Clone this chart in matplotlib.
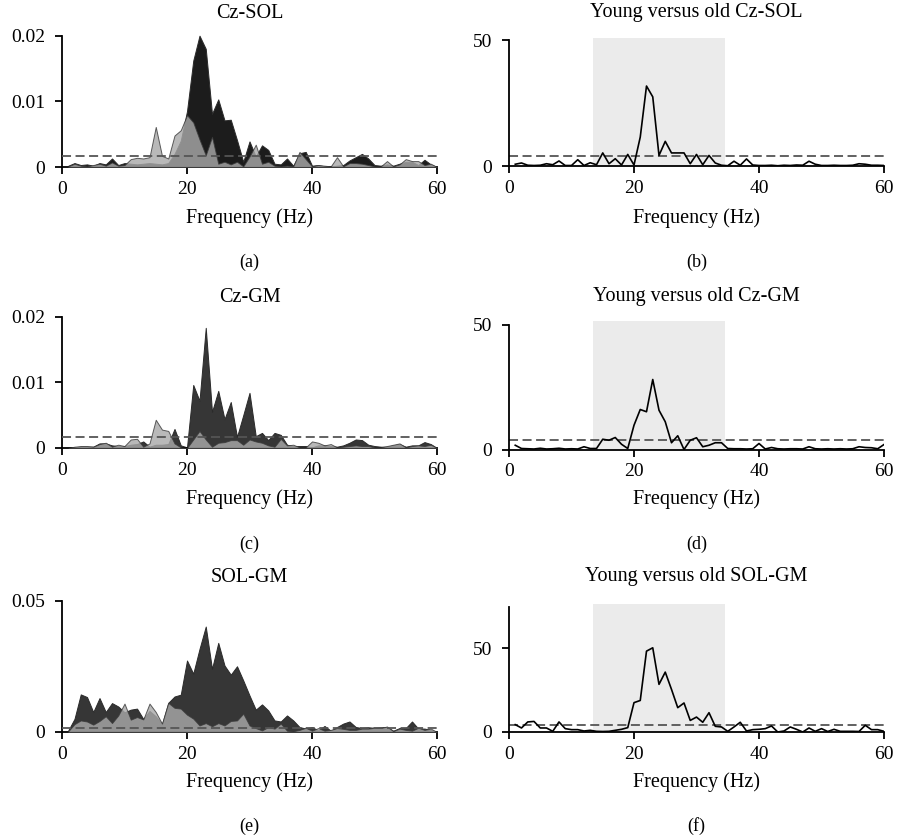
import numpy as np
import matplotlib
matplotlib.use('Agg')
import matplotlib.pyplot as plt

plt.rcParams['font.family'] = ['Liberation Serif', 'DejaVu Serif']

# ==============================================================================
# DATOS
# ==============================================================================
freq = list(range(1, 61))

# Coherencia Cz-SOL (serie oscura y serie gris)
coh_a_oscura = [0.0002, 0.0006, 0.0003, 0.0004, 0.0002, 0.0006, 0.0004, 0.0013, 0.0003, 0.0006,
                0.0005, 0.0004, 0.0005, 0.0006, 0.0005, 0.0004, 0.0006, 0.0020, 0.0040, 0.0085,
                0.0162, 0.0200, 0.0180, 0.0081, 0.0103, 0.0071, 0.0072, 0.0041, 0.0008, 0.0039,
                0.0016, 0.0033, 0.0026, 0.0005, 0.0004, 0.0013, 0.0002, 0.0021, 0.0023, 0.0002,
                0.0003, 0.0001, 0.0001, 0.0002, 0.0003, 0.0010, 0.0015, 0.0020, 0.0013, 0.0003,
                0.0002, 0.0004, 0.0002, 0.0005, 0.0008, 0.0008, 0.0003, 0.0011, 0.0004, 0.0000]
coh_a_gris = [0.0001, 0.0005, 0.0002, 0.0001, 0.0003, 0.0005, 0.0002, 0.0007, 0.0002, 0.0003,
              0.0012, 0.0014, 0.0013, 0.0015, 0.0061, 0.0017, 0.0013, 0.0048, 0.0056, 0.0079,
              0.0068, 0.0042, 0.0018, 0.0046, 0.0005, 0.0008, 0.0004, 0.0008, 0.0001, 0.0016,
              0.0034, 0.0005, 0.0008, 0.0002, 0.0001, 0.0002, 0.0001, 0.0023, 0.0012, 0.0001,
              0.0003, 0.0002, 0.0001, 0.0015, 0.0001, 0.0006, 0.0006, 0.0005, 0.0003, 0.0001,
              0.0001, 0.0009, 0.0001, 0.0004, 0.0012, 0.0009, 0.0009, 0.0003, 0.0005, 0.0000]

# Coherencia Cz-GM
coh_c_oscura = [0.0000, 0.0001, 0.0002, 0.0002, 0.0002, 0.0007, 0.0007, 0.0004, 0.0003, 0.0003,
                0.0005, 0.0006, 0.0010, 0.0002, 0.0005, 0.0005, 0.0006, 0.0029, 0.0004, 0.0001,
                0.0096, 0.0072, 0.0183, 0.0055, 0.0087, 0.0044, 0.0070, 0.0017, 0.0050, 0.0084,
                0.0018, 0.0023, 0.0012, 0.0023, 0.0020, 0.0005, 0.0003, 0.0003, 0.0003, 0.0001,
                0.0004, 0.0004, 0.0003, 0.0002, 0.0004, 0.0008, 0.0013, 0.0012, 0.0005, 0.0003,
                0.0002, 0.0002, 0.0004, 0.0006, 0.0002, 0.0004, 0.0004, 0.0009, 0.0006, 0.0000]
coh_c_gris = [0.0000, 0.0002, 0.0003, 0.0003, 0.0002, 0.0006, 0.0008, 0.0002, 0.0005, 0.0003,
              0.0013, 0.0014, 0.0002, 0.0007, 0.0043, 0.0028, 0.0026, 0.0007, 0.0001, 0.0000,
              0.0013, 0.0026, 0.0013, 0.0002, 0.0008, 0.0009, 0.0012, 0.0012, 0.0005, 0.0013,
              0.0010, 0.0008, 0.0004, 0.0002, 0.0014, 0.0004, 0.0005, 0.0001, 0.0001, 0.0010,
              0.0008, 0.0004, 0.0006, 0.0001, 0.0002, 0.0003, 0.0004, 0.0003, 0.0003, 0.0001,
              0.0001, 0.0003, 0.0005, 0.0007, 0.0001, 0.0003, 0.0004, 0.0003, 0.0005, 0.0000]

# Coherencia SOL-GM
coh_e_oscura = [0.0006, 0.0050, 0.0143, 0.0133, 0.0076, 0.0129, 0.0076, 0.0110, 0.0097, 0.0075,
                0.0085, 0.0089, 0.0050, 0.0080, 0.0060, 0.0030, 0.0111, 0.0135, 0.0142, 0.0272,
                0.0222, 0.0316, 0.0401, 0.0240, 0.0339, 0.0253, 0.0218, 0.0250, 0.0196, 0.0139,
                0.0085, 0.0105, 0.0082, 0.0044, 0.0040, 0.0063, 0.0044, 0.0019, 0.0013, 0.0019,
                0.0006, 0.0023, 0.0005, 0.0019, 0.0032, 0.0040, 0.0019, 0.0015, 0.0018, 0.0016,
                0.0018, 0.0019, 0.0005, 0.0015, 0.0015, 0.0040, 0.0013, 0.0013, 0.0008, 0.0000]
coh_e_gris = [0.0003, 0.0030, 0.0044, 0.0040, 0.0028, 0.0042, 0.0060, 0.0034, 0.0063, 0.0108,
              0.0047, 0.0057, 0.0048, 0.0108, 0.0076, 0.0032, 0.0111, 0.0092, 0.0089, 0.0066,
              0.0051, 0.0025, 0.0034, 0.0022, 0.0034, 0.0025, 0.0042, 0.0044, 0.0070, 0.0025,
              0.0015, 0.0006, 0.0019, 0.0013, 0.0032, 0.0005, 0.0003, 0.0008, 0.0016, 0.0005,
              0.0015, 0.0005, 0.0008, 0.0015, 0.0012, 0.0008, 0.0008, 0.0013, 0.0013, 0.0016,
              0.0015, 0.0021, 0.0003, 0.0013, 0.0008, 0.0005, 0.0016, 0.0008, 0.0013, 0.0000]

# Jóvenes vs mayores (estadístico)
comp_b = [0.7, 1.2, 0.3, 0.2, 0.3, 0.9, 0.5, 2.0, 0.2, 0.2,
          2.5, 0.2, 1.3, 0.5, 5.2, 0.9, 2.9, 0.4, 4.6, 0.4,
          11.5, 31.8, 27.5, 4.2, 9.8, 5.2, 5.2, 5.2, 0.9, 4.6,
          0.5, 4.2, 1.2, 0.3, 0.1, 1.9, 0.3, 2.8, 0.4, 0.2,
          0.2, 0.3, 0.1, 0.3, 0.2, 0.4, 0.3, 1.9, 0.7, 0.2,
          0.2, 0.3, 0.2, 0.2, 0.3, 0.9, 0.7, 0.3, 0.3, 0.2]
comp_d = [1.7, 0.4, 0.3, 0.2, 0.5, 0.2, 0.3, 0.5, 0.2, 0.3,
          0.2, 1.1, 0.4, 0.4, 4.1, 3.7, 4.8, 2.1, 0.4, 9.7,
          16.0, 15.1, 28.0, 15.7, 11.1, 2.7, 5.5, 0.0, 3.7, 4.7,
          1.1, 1.7, 2.7, 2.7, 0.4, 0.3, 0.3, 0.2, 0.3, 2.4,
          0.2, 0.8, 0.3, 0.2, 0.3, 0.3, 0.2, 1.1, 0.3, 0.2,
          0.3, 0.2, 0.3, 0.2, 0.3, 1.1, 0.8, 0.7, 0.3, 2.0]
comp_f = [4.4, 2.4, 6.0, 6.3, 2.4, 2.4, 0.4, 6.0, 2.0, 1.4,
          1.4, 0.6, 1.0, 0.4, 0.3, 0.4, 1.0, 1.6, 2.6, 17.5,
          18.8, 48.2, 50.2, 28.4, 35.7, 25.4, 14.5, 17.3, 6.9, 8.9,
          5.8, 11.5, 3.4, 3.0, 0.4, 3.0, 5.8, 0.6, 1.4, 1.6,
          2.0, 3.6, 0.0, 0.6, 3.0, 1.6, 0.0, 2.4, 0.4, 2.0,
          0.3, 1.6, 0.4, 0.4, 0.4, 0.3, 4.0, 1.4, 1.4, 0.4]

umbral_coh = 0.0017
umbral_comp = 4.0
banda_beta = (13.5, 34.5)

titulos_izq = ['Cz-SOL', 'Cz-GM', 'SOL-GM']
titulos_der = ['Young versus old Cz-SOL', 'Young versus old Cz-GM', 'Young versus old SOL-GM']
letras = [('(a)', '(b)'), ('(c)', '(d)'), ('(e)', '(f)')]

# ==============================================================================
# FIGURA
# ==============================================================================
W, H = 897, 839
fig = plt.figure(figsize=(W / 100, H / 100), dpi=100)


def caja(x0, y_abajo, y_arriba):
    # convierte pixeles a fracción de figura
    return [x0 / W, 1 - y_abajo / H, 375 / W, (y_abajo - y_arriba) / H]


def estilo(ax, yticks, yetiq, ytop, spine_top):
    for s in ['top', 'right']:
        ax.spines[s].set_visible(False)
    ax.spines['left'].set_bounds(0, spine_top)
    ax.spines['bottom'].set_bounds(0, 60)
    for s in ['left', 'bottom']:
        ax.spines[s].set_linewidth(1.3)
    ax.set_xlim(0, 60)
    ax.set_ylim(0, ytop)
    ax.set_xticks([0, 20, 40, 60])
    ax.set_yticks(yticks)
    ax.set_yticklabels(yetiq)
    ax.tick_params(direction='out', length=5, width=1.3, labelsize=14)
    ax.tick_params(axis='y', pad=7)
    ax.tick_params(axis='x', pad=5)


def panel_coh(ax, oscura, gris, color_osc, yticks, yetiq, ytop):
    ax.fill_between(freq, 0, oscura, color=color_osc, edgecolor='#2a2a2a', lw=0.7, zorder=2)
    ax.fill_between(freq, 0, gris, color='#a9a9a9', alpha=0.81, edgecolor='#3a3a3a', lw=0.7, zorder=3)
    ax.axhline(umbral_coh, color='#555555', lw=1.3, ls=(0, (5, 2.5)), zorder=4)
    estilo(ax, yticks, yetiq, ytop, yticks[-1])


def panel_comp(ax, valores, ytop, spine_top):
    ax.axvspan(banda_beta[0], banda_beta[1], color='#ebebeb', lw=0, zorder=0)
    ax.plot(freq, valores, color='black', lw=1.2, zorder=3)
    ax.axhline(umbral_comp, color='#555555', lw=1.3, ls=(0, (5, 2.5)), zorder=2)
    estilo(ax, [0, 50], ['0', '50'], ytop, spine_top)


# fila 1
ax_a = fig.add_axes(caja(62, 167, 35))
panel_coh(ax_a, coh_a_oscura, coh_a_gris, '#1c1c1c', [0, 0.01, 0.02], ['0', '0.01', '0.02'], 0.0201)
ax_b = fig.add_axes(caja(509, 166, 37.5))
panel_comp(ax_b, comp_b, 51.1, 50)

# fila 2
ax_c = fig.add_axes(caja(62, 448, 316))
panel_coh(ax_c, coh_c_oscura, coh_c_gris, '#363636', [0, 0.01, 0.02], ['0', '0.01', '0.02'], 0.0201)
ax_d = fig.add_axes(caja(509, 449.5, 321))
panel_comp(ax_d, comp_d, 51.4, 50)

# fila 3
ax_e = fig.add_axes(caja(62, 732, 600))
panel_coh(ax_e, coh_e_oscura, coh_e_gris, '#363636', [0, 0.05], ['0', '0.05'], 0.0502)
ax_f = fig.add_axes(caja(509, 732, 603.5))
panel_comp(ax_f, comp_f, 76.6, 74.4)

# textos: títulos, ejes y letras
y_tit = [13, 297, 577]
y_xlab = [218, 499, 782]
y_letra = [262, 544, 826]
for i in range(3):
    fig.text(249.5 / W, 1 - y_tit[i] / H, titulos_izq[i], ha='center', va='center', fontsize=14.5)
    fig.text(696.5 / W, 1 - y_tit[i] / H, titulos_der[i], ha='center', va='center', fontsize=14.5)
    for xc in (249.5, 696.5):
        fig.text(xc / W, 1 - y_xlab[i] / H, 'Frequency (Hz)', ha='center', va='center', fontsize=14.5)
    fig.text(249.5 / W, 1 - y_letra[i] / H, letras[i][0], ha='center', va='center', fontsize=13)
    fig.text(696.5 / W, 1 - y_letra[i] / H, letras[i][1], ha='center', va='center', fontsize=13)

fig.savefig('out.png', dpi=100)
